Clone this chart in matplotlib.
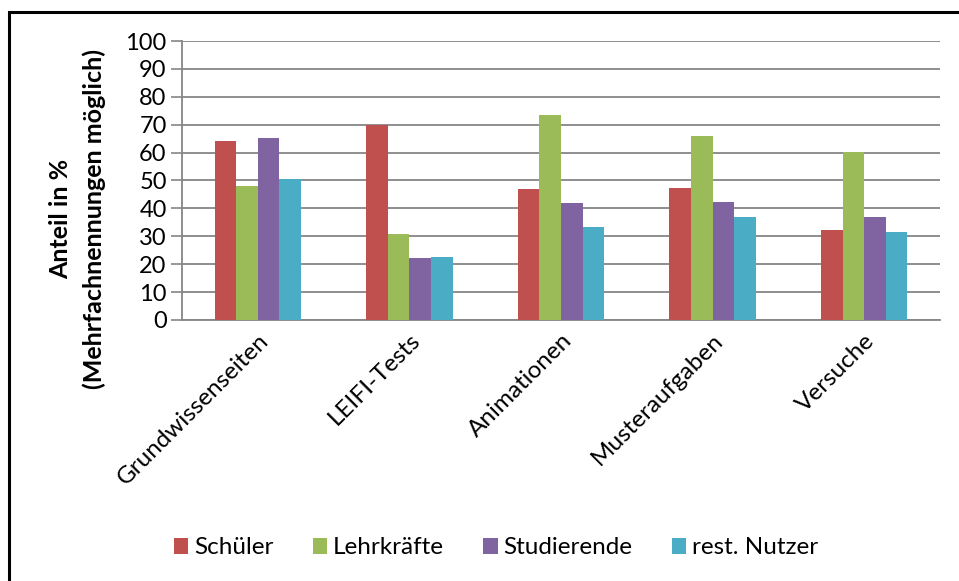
import numpy as np
import matplotlib.pyplot as plt
from matplotlib.patches import Rectangle

# data
categories = ["Grundwissenseiten", "LEIFI-Tests", "Animationen", "Musteraufgaben", "Versuche"]
series_names = ["Schüler", "Lehrkräfte", "Studierende", "rest. Nutzer"]
schueler = [64.1, 69.8, 46.9, 47.4, 32.3]
lehrkraefte = [47.9, 30.8, 73.4, 66.0, 60.2]
studierende = [65.4, 22.4, 41.8, 42.4, 37.0]
rest_nutzer = [50.5, 22.7, 33.5, 36.9, 31.7]
colors = ["#C0504D", "#9BBB59", "#8064A2", "#4BACC6"]

plt.rcParams['font.family'] = ['Lato', 'DejaVu Sans']

fig = plt.figure(figsize=(9.59, 5.81), dpi=100)
ax = fig.add_axes([182 / 959, 1 - 320 / 581, (940 - 182) / 959, (320 - 41) / 581])

x = np.arange(len(categories))
width = 0.1425
all_series = [schueler, lehrkraefte, studierende, rest_nutzer]
for i, (vals, name, c) in enumerate(zip(all_series, series_names, colors)):
    ax.bar(x + (i - 1.5) * width, vals, width, color=c, label=name, zorder=3)

ax.set_xlim(-0.5, len(categories) - 0.5)
ax.set_ylim(0, 100)
ax.set_yticks(range(0, 101, 10))
ax.yaxis.grid(True, color="#868686", linewidth=1.3, zorder=0)
ax.tick_params(axis='y', labelsize=17, length=8, width=1.2, color="#868686", pad=3)
ax.tick_params(axis='x', length=0, pad=7)
ax.set_xticks(x)
ax.set_xticklabels(categories, rotation=45, ha='right', rotation_mode='anchor', fontsize=17.5)
for s in ['top', 'right']:
    ax.spines[s].set_visible(False)
for s in ['left', 'bottom']:
    ax.spines[s].set_color("#868686")
    ax.spines[s].set_linewidth(1.3)

# y axis title: two lines, centred a bit below the middle of the axes like the original
fig.text(61 / 959, 1 - 219 / 581, "Anteil in %", rotation=90, ha='center', va='center',
         fontsize=18, fontweight='bold')
fig.text(94 / 959, 1 - 219 / 581, "(Mehrfachnennungen möglich)", rotation=90, ha='center',
         va='center', fontsize=18, fontweight='bold')

ax.legend(loc='center', bbox_to_anchor=(496 / 959, 1 - 548 / 581), bbox_transform=fig.transFigure,
          ncol=4, frameon=False, fontsize=17.5, handlelength=0.6, handleheight=0.6,
          handletextpad=0.25, columnspacing=1.6)

# outer chart border (only the top and left edges are visible in the original)
fig.patches.append(Rectangle((9 / 959, -0.1), 1.2, 1 - 12 / 581 + 0.1, transform=fig.transFigure,
                             fill=False, edgecolor='black', linewidth=2.2))

fig.savefig("out.png", dpi=100)
